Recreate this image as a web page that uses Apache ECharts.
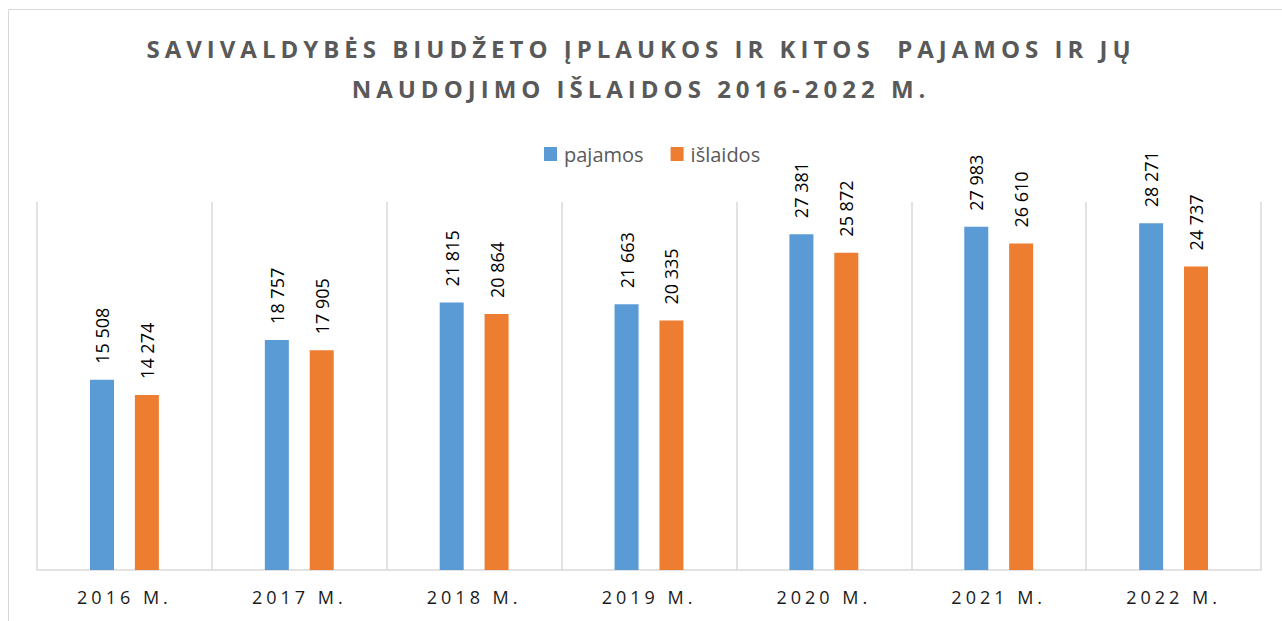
<!DOCTYPE html>
<html>
<head>
<meta charset="utf-8">
<script src="https://cdn.jsdelivr.net/npm/echarts@6/dist/echarts.min.js"></script>
<style>
  html, body { margin: 0; padding: 0; background: #fff; }
  #chart { width: 1282px; height: 621px; }
  /* Excel-style spaced caps: title and category labels */
  #chart text[style*="bold"] { letter-spacing: 5px; }
  #chart text[style*="Lato"] { letter-spacing: 4px; }
</style>
</head>
<body>
<div id="chart"></div>
<script>
// metai ir reikšmės (tūkst. Eur)
const years = ['2016 M.', '2017 M.', '2018 M.', '2019 M.', '2020 M.', '2021 M.', '2022 M.'];
const pajamos = [15508, 18757, 21815, 21663, 27381, 27983, 28271];
const islaidos = [14274, 17905, 20864, 20335, 25872, 26610, 24737];
const seriesNames = ['pajamos', 'išlaidos'];

const fmt = v => String(v.value).replace(/\B(?=(\d{3})+(?!\d))/g, ' ');

const barLabel = {
  show: true,
  position: 'top',
  rotate: 90,
  align: 'left',
  verticalAlign: 'middle',
  distance: 16,
  color: '#000',
  fontSize: 18,
  fontFamily: 'Open Sans',
  formatter: fmt
};

const chart = echarts.init(document.getElementById('chart'), null, { renderer: 'svg' });
chart.setOption({
  backgroundColor: '#fff',
  animation: false,
  title: {
    text: 'SAVIVALDYBĖS BIUDŽETO ĮPLAUKOS IR KITOS  PAJAMOS IR JŲ\nNAUDOJIMO IŠLAIDOS 2016-2022 M.',
    left: 'center',
    top: 23,
    padding: [5, 0, 5, 18],
    textStyle: {
      color: '#595959',
      fontSize: 24,
      fontWeight: 'bold',
      fontFamily: 'Open Sans',
      lineHeight: 40,
      align: 'center'
    }
  },
  graphic: [{
    type: 'rect',
    shape: { x: 8.5, y: 9.5, width: 1300, height: 700 },
    style: { fill: 'none', stroke: '#d9d9d9', lineWidth: 1 },
    silent: true
  }],
  legend: {
    top: 139,
    left: 539,
    itemWidth: 13,
    itemHeight: 14,
    itemGap: 27,
    icon: 'rect',
    data: seriesNames,
    textStyle: { color: '#595959', fontSize: 20, fontFamily: 'Open Sans', padding: [0, 0, 0, 2] }
  },
  grid: { left: 37, right: 21, top: 202, bottom: 51 },
  xAxis: {
    type: 'category',
    data: years,
    axisLine: { lineStyle: { color: '#d9d9d9', width: 1.5 } },
    axisTick: { show: false },
    splitLine: { show: true, lineStyle: { color: '#d9d9d9', width: 1.5 } },
    axisLabel: { color: '#1a1a1a', fontSize: 18, fontFamily: 'Open Sans, Lato', margin: 18 }
  },
  yAxis: {
    type: 'value',
    min: 0,
    max: 30000,
    show: false,
    splitLine: { show: false }
  },
  series: [
    {
      name: seriesNames[0],
      type: 'bar',
      data: pajamos,
      barWidth: 24,
      barGap: '87%',
      itemStyle: { color: '#5b9bd5' },
      label: barLabel
    },
    {
      name: seriesNames[1],
      type: 'bar',
      data: islaidos,
      barWidth: 24,
      itemStyle: { color: '#ed7d31' },
      label: barLabel
    }
  ]
});
</script>
</body>
</html>
